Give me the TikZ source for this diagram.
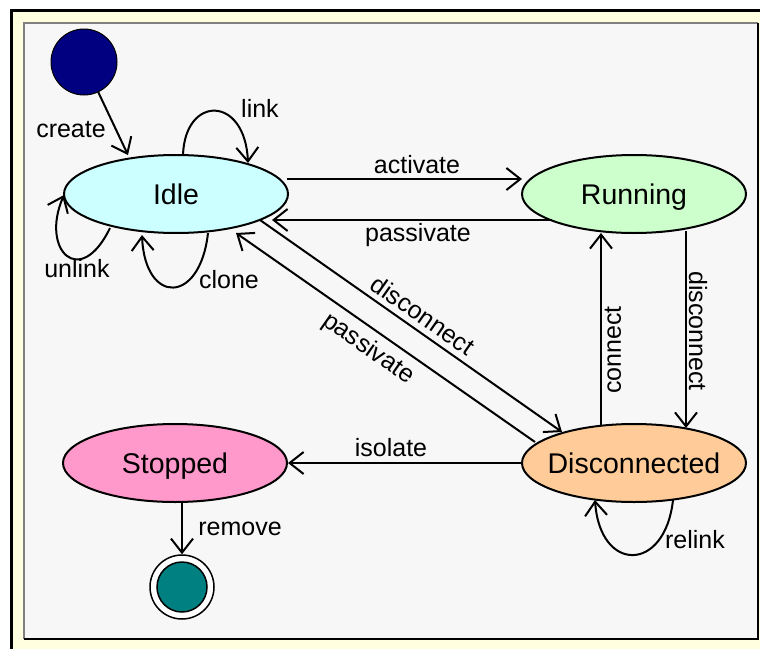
\documentclass[tikz,border=0pt]{standalone}
\usepackage{fontspec}
\setmainfont{Liberation Sans}
\usetikzlibrary{arrows.meta,calc,shapes.geometric}
\definecolor{idlec}{HTML}{CCFFFF}
\definecolor{runc}{HTML}{CCFFCC}
\definecolor{stopc}{HTML}{FF99CC}
\definecolor{discc}{HTML}{FFCC99}
\definecolor{initc}{HTML}{000080}
\definecolor{finc}{HTML}{008080}
\definecolor{bandc}{HTML}{FFFFE0}
\definecolor{panelc}{HTML}{F7F7F7}
\begin{document}
\begin{tikzpicture}[x=1pt,y=-1pt,
  state/.style={ellipse, draw, line width=2pt, minimum width=224pt, minimum height=78pt, inner sep=0pt},
  stxt/.style={font=\fontsize{28.5}{30}\selectfont, inner sep=0pt, text height=20.5pt, text depth=0pt},
  lbl/.style={font=\fontsize{25}{27}\selectfont, inner sep=0pt, anchor=base},
  rlbl/.style={font=\fontsize{25}{27}\selectfont, inner sep=0pt, anchor=center},
  arr/.style={line width=2pt, -{Straight Barb[length=14pt,width=22pt]}},
  loopl/.style={line width=2pt, -{Straight Barb[length=14pt,width=22pt]}},
]
\useasboundingbox (0,0) rectangle (760,648);
\begin{scope}
\clip (0,0) rectangle (760,648);
\fill[white] (0,0) rectangle (760,648);
\draw[line width=3pt, fill=bandc] (11,10.5) rectangle (780,670);
\fill[panelc] (24,23) rectangle (758,639);
\draw[line width=1.5pt, gray] (24,639) -- (24,23) -- (758,23);
\draw[line width=1.5pt, black] (24,639) -- (758,639) -- (758,23);
\end{scope}

% states
\node[circle, draw, line width=1pt, fill=initc, minimum size=66pt, inner sep=0pt] (init) at (84,62) {};
\node[state, fill=idlec] (idle) at (176,194) {};
\node[stxt] (idleT) at (idle) {Idle};
\node[state, fill=runc] (running) at (634,194) {};
\node[stxt] (runningT) at (running) {Running};
\node[state, fill=stopc] (stopped) at (175,463) {};
\node[stxt] (stoppedT) at (stopped) {Stopped};
\node[state, fill=discc] (disc) at (634,463) {};
\node[stxt] (discT) at (disc) {Disconnected};
\node[circle, draw, line width=1.5pt, fill=white, minimum size=64pt, inner sep=0pt] (final) at (182,587) {};
\node[circle, draw, line width=1.5pt, fill=finc, minimum size=50pt, inner sep=0pt] (finalin) at (final) {};

% transitions
\draw[arr] (init) -- ($(idle.center)+(-48,-39)$);
\node[lbl] (lcreate) at (71,137) {create};

\draw[loopl] ($(idle.center)+(7,-39)$) .. controls ($(idle.center)+(9,-99)$) and ($(idle.center)+(69,-99)$) .. ($(idle.center)+(72,-31)$);
\node[lbl] (llink) at (260,117) {link};

\draw[loopl] ($(idle.center)+(-66,34)$) .. controls ($(idle.center)+(-96,96)$) and ($(idle.center)+(-136,56)$) .. ($(idle.center)+(-112,1)$);
\node[lbl] (lunlink) at (77,277) {unlink};

\draw[loopl] ($(idle.center)+(32,39)$) .. controls ($(idle.center)+(24,111)$) and ($(idle.center)+(-31,111)$) .. ($(idle.center)+(-34,41)$);
\node[lbl] (lclone) at (229,288) {clone};

\draw[arr] ($(idle.center)+(111,-15)$) -- ($(running.center)+(-112,-15)$);
\node[lbl] (lactivate) at (417,173) {activate};

\draw[arr] ($(running.center)+(-82,26)$) -- ($(idle.center)+(96,26)$);
\node[lbl] (lpassivate) at (418,241) {passivate};

\draw[arr] ($(idle.center)+(84,26)$) -- ($(disc.center)+(-72,-31)$);
\node[rlbl, rotate=-35] (ldisc1) at (423,315) {disconnect};

\draw[arr] ($(disc.center)+(-99,-21)$) -- ($(idle.center)+(60,39)$);
\node[rlbl, rotate=-35] (lpass2) at (368,349) {passivate};

\draw[arr] ($(disc.center)+(-33,-38)$) -- ($(running.center)+(-33,39)$);
\node[rlbl, rotate=90] (lconnect) at (613,350) {connect};

\draw[arr] ($(running.center)+(52,37)$) -- ($(disc.center)+(52,-35)$);
\node[rlbl, rotate=-90] (ldisc2) at (698,331) {disconnect};

\draw[arr] (disc.west) -- (stopped.east);
\node[lbl] (lisolate) at (391,456) {isolate};

\draw[loopl] ($(disc.center)+(39,37)$) .. controls ($(disc.center)+(31,110)$) and ($(disc.center)+(-34,110)$) .. ($(disc.center)+(-39,37)$);
\node[lbl] (lrelink) at (695,548) {relink};

\draw[arr] ($(stopped.center)+(7,39)$) -- (final.north);
\node[lbl] (lremove) at (240,535) {remove};
\end{tikzpicture}
\end{document}
